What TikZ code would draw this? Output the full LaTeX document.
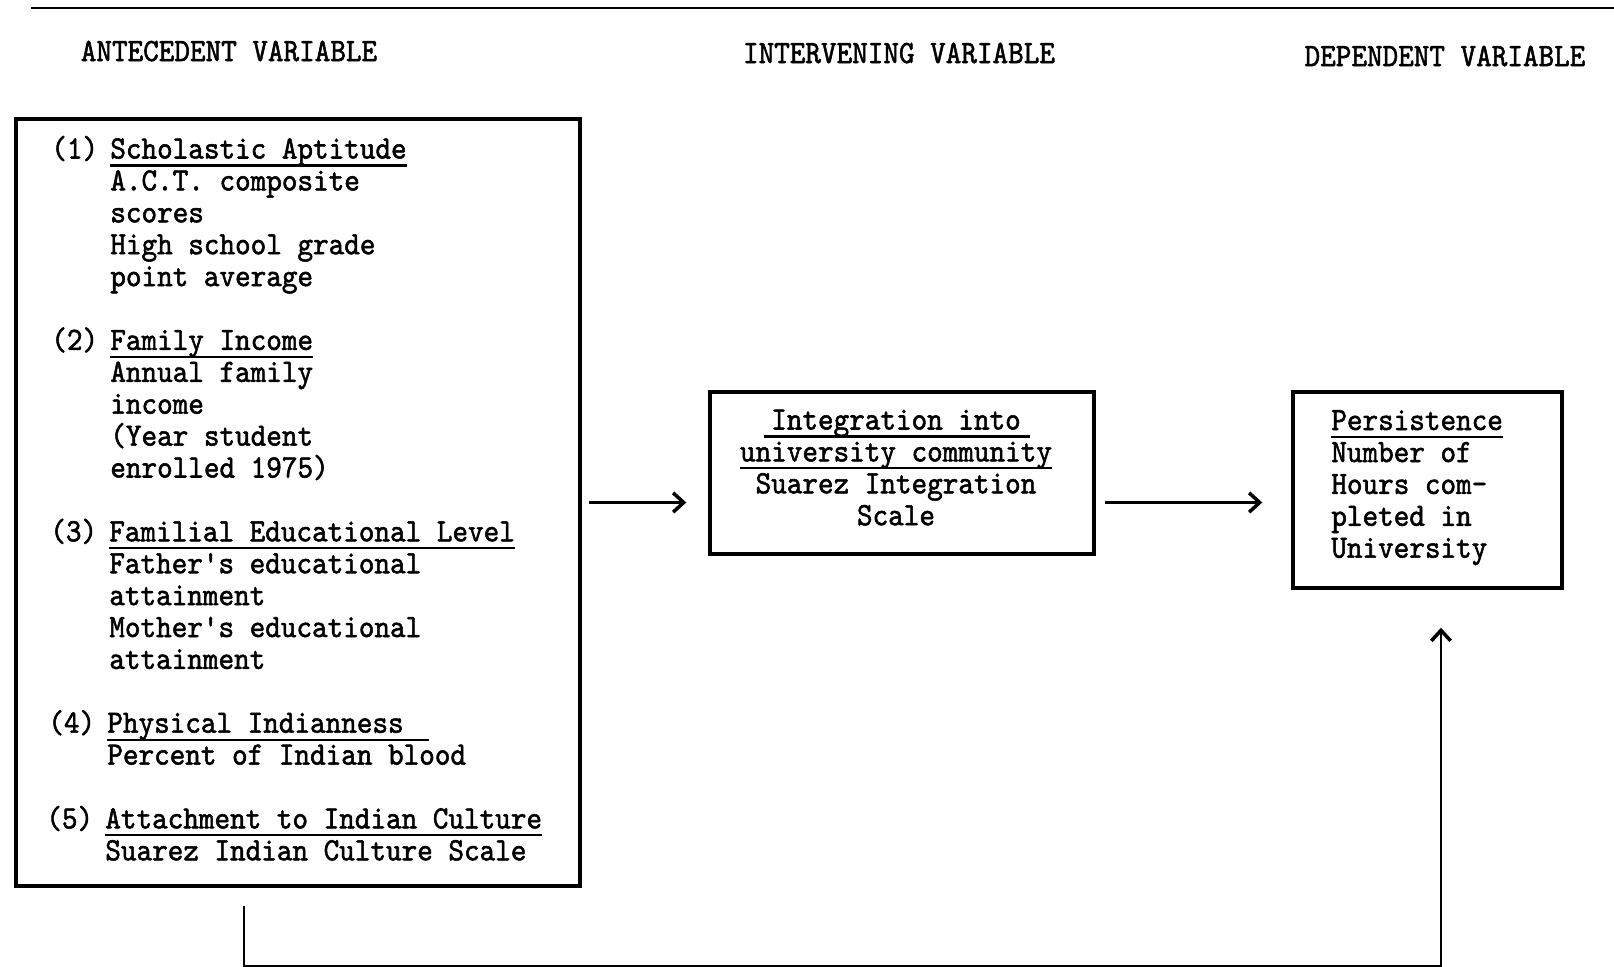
\documentclass[tikz,border=0pt]{standalone}
\usepackage{fontspec}
\newfontfamily\typerfam{lmmono10-regular}[Extension=.otf, FakeStretch=0.914, FakeBold=1.6]
\newcommand{\typer}{\typerfam\fontsize{18.5pt}{18.15pt}\selectfont}
\usetikzlibrary{arrows.meta}

\begin{document}
\begin{tikzpicture}[x=0.02cm, y=-0.02cm,
  typed/.style = {font=\typer, inner sep=0pt},
  varbox/.style = {draw, line width=2pt, inner sep=0pt},
  link/.style = {line width=1.3pt, -{Straight Barb[length=6pt, width=11pt, line width=2pt]}},
  uline/.style = {line width=1.2pt}]

  \useasboundingbox (0,0) rectangle (1614,967);
  \draw[line width=1.6pt] (31,8) -- (1614,8);

  % column headings
  \node[typed, anchor=base] (antehead) at (229,61) {ANTECEDENT VARIABLE};
  \node[typed, anchor=base] (interhead) at (899,63) {INTERVENING VARIABLE};
  \node[typed, anchor=base] (dephead) at (1445,66) {DEPENDENT VARIABLE};

  % boxes
  \node[varbox, minimum width=11.28cm, minimum height=15.34cm] (ante) at (298,502.5) {};
  \node[varbox, minimum width=7.68cm, minimum height=3.24cm] (inter) at (902,473) {};
  \node[varbox, minimum width=5.38cm, minimum height=3.92cm] (pers) at (1427.5,490) {};

  % antecedent variables (body nodes sit on the baseline of their last line)
  \node[typed, anchor=base west] (n1) at (51,158.5) {(1)};
  \node[typed, anchor=base west] (h1) at (110,158.5) {Scholastic Aptitude};
  \node[typed, anchor=base west, align=left] (b1) at (110,286.1)
  {A.C.T. composite\\scores\\High school grade\\point average};
  \draw[uline] ([yshift=-4pt]h1.base west) -- ([yshift=-4pt]h1.base east);

  \node[typed, anchor=base west] (n2) at (51,349.9) {(2)};
  \node[typed, anchor=base west] (h2) at (110,349.9) {Family Income};
  \node[typed, anchor=base west, align=left] (b2) at (110,477.5)
  {Annual family\\income\\(Year student\\enrolled 1975)};
  \draw[uline] ([yshift=-4pt]h2.base west) -- ([yshift=-4pt]h2.base east);

  \node[typed, anchor=base west] (n3) at (50,541.3) {(3)};
  \node[typed, anchor=base west] (h3) at (109,541.3) {Familial Educational Level};
  \node[typed, anchor=base west, align=left] (b3) at (109,668.9)
  {Father's educational\\attainment\\Mother's educational\\attainment};
  \draw[uline] ([yshift=-4pt]h3.base west) -- ([yshift=-4pt]h3.base east);

  \node[typed, anchor=base west] (n4) at (48,732.7) {(4)};
  \node[typed, anchor=base west] (h4) at (107,732.7) {Physical Indianness};
  \node[typed, anchor=base west] (b4) at (107,764.6) {Percent of Indian blood};
  \draw[uline] ([yshift=-4pt]h4.base west) -- ([yshift=-4pt, xshift=0.5cm]h4.base east);

  \node[typed, anchor=base west] (n5) at (46,828.4) {(5)};
  \node[typed, anchor=base west] (h5) at (105,828.4) {Attachment to Indian Culture};
  \node[typed, anchor=base west] (b5) at (105,860.3) {Suarez Indian Culture Scale};
  \draw[uline] ([yshift=-4pt]h5.base west) -- ([yshift=-4pt]h5.base east);

  % intervening variable
  \node[typed, anchor=base] (i1) at (896,429.5) {Integration into};
  \node[typed, anchor=base] (i2) at (896,461.4) {university community};
  \node[typed, anchor=base, align=center] (ib) at (896,525.2)
  {Suarez Integration\\Scale};
  \draw[uline] ([yshift=-4pt, xshift=-4pt]i1.base west) -- ([yshift=-4pt, xshift=5pt]i1.base east);
  \draw[uline] ([yshift=-4pt]i2.base west) -- ([yshift=-4pt]i2.base east);

  % dependent variable
  \node[typed, anchor=base west] (p1) at (1331,430) {Persistence};
  \node[typed, anchor=base west, align=left] (pb) at (1331,557.7)
  {Number of\\Hours com-\\pleted in\\University};
  \draw[uline] ([yshift=-4pt]p1.base west) -- ([yshift=-4pt]p1.base east);

  % connectors
  \draw[link] ([xshift=0.14cm]ante.east) -- ([xshift=-0.44cm]ante.east -| inter.west);
  \draw[link] ([xshift=0.18cm]ante.east -| inter.east) -- ([xshift=-0.58cm]ante.east -| pers.west);
  \coordinate (loopstart) at ([xshift=-1.08cm, yshift=-0.36cm]ante.south);
  \draw[link] (loopstart) -- ++(0,60) -| ([xshift=0.27cm, yshift=-0.76cm]pers.south);
\end{tikzpicture}
\end{document}
